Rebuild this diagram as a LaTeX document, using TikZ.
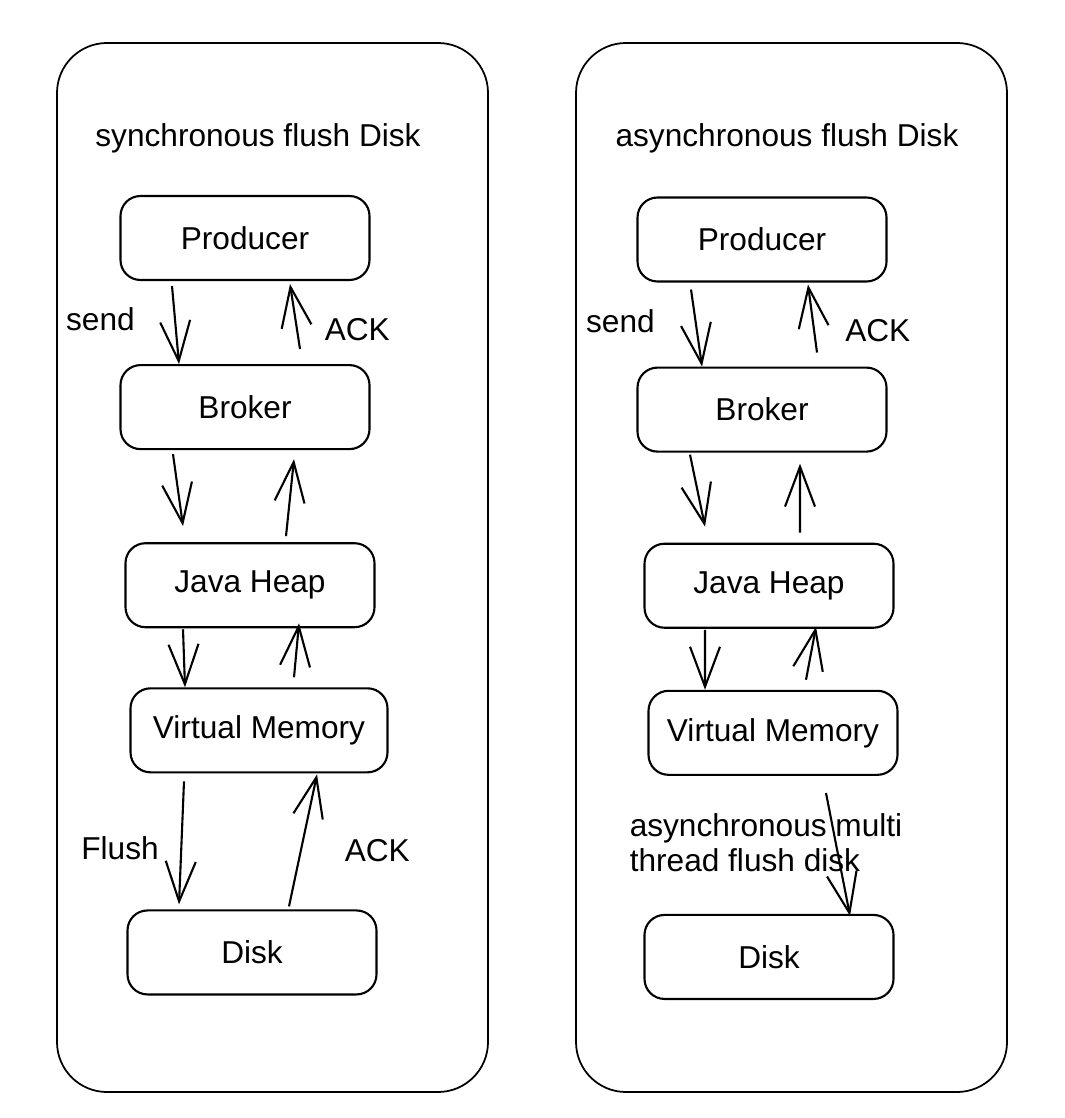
\documentclass[tikz,border=0pt]{standalone}
\usepackage{fontspec}
\setmainfont{Liberation Sans}
\usetikzlibrary{positioning,calc}
\usetikzlibrary{arrows.meta}

\begin{document}
\begin{tikzpicture}[
      box/.style={draw, line width=0.6pt, rounded corners=0.2cm,
         minimum width=2.49cm, minimum height=0.84cm, inner sep=0pt},
      flow/.style={line width=0.6pt,
         -{Straight Barb[length=0.4cm,width=0.3cm]}},
      txt/.style={font=\fontsize{9}{10}\selectfont},
      panel/.style={draw, line width=0.5pt, rounded corners=0.5cm}
   ]
      \useasboundingbox (0,0) rectangle (10.64,-11.18);

      % the two frames
      \draw[panel] (0.57,-0.43) rectangle (4.88,-10.92);
      \draw[panel] (5.76,-0.43) rectangle (10.07,-10.92);

      % synchronous flush
      \node[txt] (t1) at (2.58,-1.38) {synchronous flush Disk};
      \node[box, txt] (p1) at (2.45,-2.38) {Producer};
      \node[box, txt, below=0.83cm of p1] (b1) {Broker};
      \node[box, txt, below=0.92cm of b1, xshift=0.05cm] (j1) {Java Heap};
      \node[box, txt, minimum width=2.57cm,
         below=0.59cm of j1, xshift=0.09cm] (v1) {Virtual Memory};
      \node[box, txt, below=1.36cm of v1, xshift=-0.07cm] (d1) {Disk};

      \draw[flow] ([shift={(-0.73,-0.05)}]p1.south) -- ([xshift=-0.66cm]b1.north)
         node[txt, midway, left=0.28cm, yshift=0.06cm] {send};
      \draw[flow] ([shift={(0.55,0.15)}]b1.north) -- ([shift={(0.45,-0.03)}]p1.south)
         node[txt, midway, right=0.17cm, yshift=-0.13cm] {ACK};
      \draw[flow] ([shift={(-0.72,-0.04)}]b1.south) -- ([shift={(-0.67,0.16)}]j1.north);
      \draw[flow] ([shift={(0.36,0.06)}]j1.north) -- ([shift={(0.49,-0.09)}]b1.south);
      \draw[flow] ([shift={(-0.67,-0.01)}]j1.south) -- ([xshift=-0.74cm]v1.north);
      \draw[flow] ([shift={(0.35,0.10)}]v1.north) -- ([shift={(0.49,0.05)}]j1.south);
      \draw[flow] ([shift={(-0.75,-0.08)}]v1.south) -- ([shift={(-0.73,0.05)}]d1.north)
         node[txt, midway, left=0.10cm, yshift=-0.05cm] {Flush};
      \draw[flow] ([shift={(0.37,0.03)}]d1.north) -- ([shift={(0.58,-0.01)}]v1.south)
         node[txt, midway, right=0.29cm, yshift=-0.1cm] {ACK};

      % asynchronous flush
      \node[txt] (t2) at (7.87,-1.38) {asynchronous flush Disk};
      \node[box, txt] (p2) at (7.62,-2.395) {Producer};
      \node[box, txt, below=0.84cm of p2] (b2) {Broker};
      \node[box, txt, below=0.90cm of b2, xshift=0.07cm] (j2) {Java Heap};
      \node[box, txt, below=0.61cm of j2, xshift=0.04cm] (v2) {Virtual Memory};
      \node[box, txt, below=1.38cm of v2, xshift=-0.04cm] (d2) {Disk};

      \draw[flow] ([shift={(-0.71,-0.07)}]p2.south) -- ([xshift=-0.60cm]b2.north)
         node[txt, midway, left=0.29cm, yshift=0.07cm] {send};
      \draw[flow] ([shift={(0.55,0.14)}]b2.north) -- ([shift={(0.46,-0.02)}]p2.south)
         node[txt, midway, right=0.20cm, yshift=-0.12cm] {ACK};
      \draw[flow] ([shift={(-0.72,-0.02)}]b2.south) -- ([shift={(-0.64,0.16)}]j2.north);
      \draw[flow] ([shift={(0.31,0.10)}]j2.north) -- ([shift={(0.38,-0.11)}]b2.south);
      \draw[flow] ([shift={(-0.64,-0.01)}]j2.south) -- ([xshift=-0.68cm]v2.north);
      \draw[flow] ([shift={(0.33,0.10)}]v2.north) -- ([shift={(0.47,0.02)}]j2.south);

      % multi thread flush note
      \node[txt, align=left] (n2) at (7.66,-8.43)
         {asynchronous multi\\thread flush disk};
      \coordinate (a0) at (8.26,-7.93);
      \draw[flow] (a0) -- ([shift={(0.81,-0.02)}]d2.north);

   \end{tikzpicture}
\end{document}
